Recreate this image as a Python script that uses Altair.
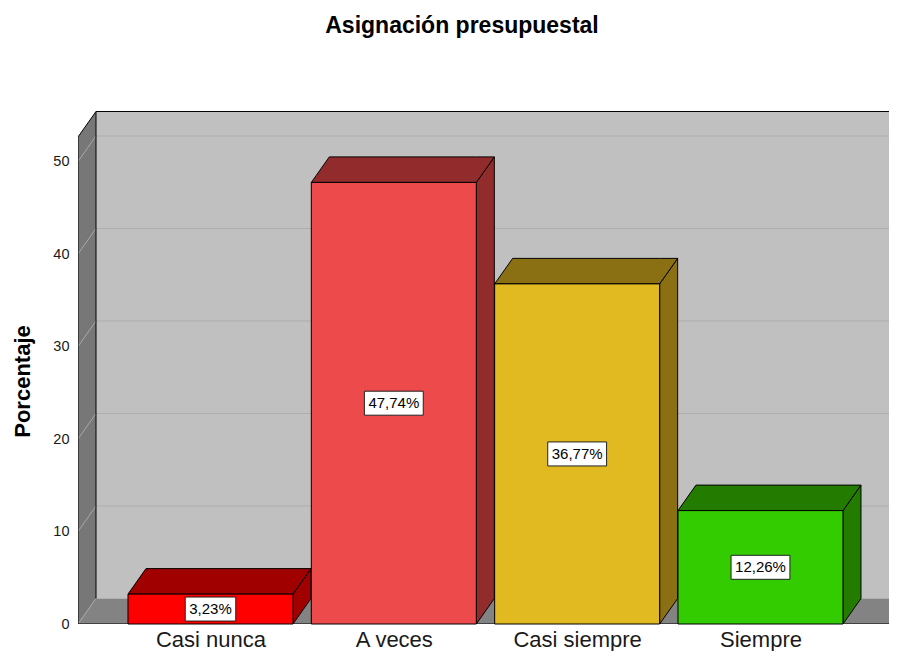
import json
import altair as alt
import pandas as pd

# ---- data ----
categories = ["Casi nunca", "A veces", "Casi siempre", "Siempre"]
values = [3.23, 47.74, 36.77, 12.26]
labels = ["3,23%", "47,74%", "36,77%", "12,26%"]
front_colors = ["#ff0000", "#ed4b4b", "#e0ba20", "#33cc00"]
shade_colors = ["#a00000", "#922c2c", "#8a7012", "#237c00"]
y_ticks = [0, 10, 20, 30, 40, 50]

# ---- geometry / style (x in category units, y in percent units) ----
FONT = "Liberation Sans"
PX_X = 183.33          # px per category step
PX_Y = 9.25            # px per percent
VIEW_W, VIEW_H = 811, 520
HALF = 0.45            # half bar width
DX = 18 / PX_X         # depth offset, x
DY = 25.5 / PX_Y       # depth offset, y
XL = -0.7227           # front left edge of the plot (left wall)
XR = 3.723             # front right edge of the floor
XMAX = XL + VIEW_W / PX_X
YMAX = VIEW_H / PX_Y
Y_TOP = 52.65          # top of the left wall (front)

x_scale = alt.Scale(domain=[XL, XMAX], nice=False, zero=False)
y_scale = alt.Scale(domain=[0, YMAX], nice=False, zero=False)

label_expr = "%s[round(datum.value)]" % json.dumps(categories, ensure_ascii=False)
X_AXIS = alt.Axis(values=[0, 1, 2, 3], labelExpr=label_expr, title=None, grid=False,
                  ticks=False, domain=False, labelFont=FONT, labelFontSize=22,
                  labelColor="#1a1a1a", labelBaseline="alphabetic", labelPadding=22,
                  labelFlush=False, labelOverlap=False)
Y_AXIS = alt.Axis(values=y_ticks, title="Porcentaje", grid=False, ticks=False, domain=False,
                  labelFont=FONT, labelFontSize=14.5, labelColor="#1a1a1a", labelPadding=9,
                  titleFont=FONT, titleFontSize=22, titleFontWeight="bold", titleColor="#000",
                  titleAngle=270, titleX=-56, titleY=277, titleAlign="center",
                  titleBaseline="middle")


def X(f):
    return alt.X(f, type="quantitative", scale=x_scale, axis=X_AXIS)


def Y(f):
    return alt.Y(f, type="quantitative", scale=y_scale, axis=Y_AXIS, stack=None)


# ---- tables built from the arrays ----
front_rows, top_rows, side_rows, box_rows = [], [], [], []
for i, (c, v, lab, fc, sc) in enumerate(zip(categories, values, labels, front_colors, shade_colors)):
    x0, x1 = i - HALF, i + HALF
    front_rows.append(dict(cat=c, x0=x0, x1=x1, v=v, base=0, fc=fc))
    for x, lo, hi in [(x0, v, v), (x0 + DX, v, v + DY), (x1, v, v + DY), (x1 + DX, v + DY, v + DY)]:
        top_rows.append(dict(cat=c, x=x, lo=lo, hi=hi, sc=sc))
    for x, lo, hi in [(x1, 0, v), (x1 + DX, DY, v + DY)]:
        side_rows.append(dict(cat=c, x=x, lo=lo, hi=hi, sc=sc))
    em = sum(0.889 if ch == "%" else (0.278 if ch == "," else 0.556) for ch in lab)
    hw = (em * 15 + 8) / 2 / PX_X
    hh = 12 / PX_Y
    box_rows.append(dict(cat=c, idx=i, lab=lab, mid=v / 2, bx0=i - hw, bx1=i + hw,
                         by0=v / 2 - hh, by1=v / 2 + hh))

front_df = pd.DataFrame(front_rows)
top_df = pd.DataFrame(top_rows)
side_df = pd.DataFrame(side_rows)
box_df = pd.DataFrame(box_rows)

back_df = pd.DataFrame([dict(x0=XL + DX, x1=XR + DX, y0=DY, y1=Y_TOP + DY)])
leftwall_df = pd.DataFrame([dict(x=XL, lo=0, hi=Y_TOP), dict(x=XL + DX, lo=DY, hi=Y_TOP + DY)])
floor_df = pd.DataFrame([dict(x=XL, lo=0, hi=0), dict(x=XL + DX, lo=0, hi=DY),
                         dict(x=XR, lo=0, hi=DY), dict(x=XR + DX, lo=DY, hi=DY)])

seg = []
for t in y_ticks[1:]:
    seg.append(dict(x0=XL + DX, x1=XR + DX, y0=t + DY, y1=t + DY, col="#adadad"))
    seg.append(dict(x0=XL, x1=XL + DX, y0=t, y1=t + DY, col="#a8a8a8"))
seg.append(dict(x0=XL, x1=XL + DX, y0=0, y1=DY, col="#a8a8a8"))
for x0, x1, y0, y1 in [(XL, XL, 0, Y_TOP), (XL, XL + DX, Y_TOP, Y_TOP + DY),
                       (XL + DX, XL + DX, DY, Y_TOP + DY), (XL + DX, XR + DX, Y_TOP + DY, Y_TOP + DY),
                       (XL, XR, 0, 0), (XR, XR + DX, 0, DY)]:
    seg.append(dict(x0=x0, x1=x1, y0=y0, y1=y1, col="#000000"))
seg_df = pd.DataFrame(seg)

# ---- layers ----
back = alt.Chart(back_df).mark_rect(fill="#c0c0c0", clip=True).encode(
    x=X("x0"), x2="x1", y=Y("y0"), y2="y1")
leftwall = alt.Chart(leftwall_df).mark_area(fill="#777777", clip=True).encode(
    x=X("x"), y=Y("lo"), y2="hi")
floor = alt.Chart(floor_df).mark_area(fill="#838383", clip=True).encode(
    x=X("x"), y=Y("lo"), y2="hi")
lines = alt.Chart(seg_df).mark_rule(strokeWidth=1, clip=True).encode(
    x=X("x0"), x2="x1", y=Y("y0"), y2="y1", stroke=alt.Stroke("col:N", scale=None))
sides = alt.Chart(side_df).mark_area(stroke="black", strokeWidth=1, clip=True).encode(
    x=X("x"), y=Y("lo"), y2="hi", fill=alt.Fill("sc:N", scale=None), detail="cat:N")
tops = alt.Chart(top_df).mark_area(stroke="black", strokeWidth=1, clip=True).encode(
    x=X("x"), y=Y("lo"), y2="hi", fill=alt.Fill("sc:N", scale=None), detail="cat:N")
fronts = alt.Chart(front_df).mark_rect(stroke="black", strokeWidth=1).encode(
    x=X("x0"), x2="x1", y=Y("base"), y2="v", fill=alt.Fill("fc:N", scale=None))
boxes = alt.Chart(box_df).mark_rect(fill="white", stroke="#222", strokeWidth=1).encode(
    x=X("bx0"), x2="bx1", y=Y("by0"), y2="by1")
texts = alt.Chart(box_df).mark_text(font=FONT, fontSize=15, color="black",
                                    baseline="middle", align="center").encode(
    x=X("idx"), y=Y("mid"), text="lab:N")

chart = alt.layer(back, leftwall, floor, lines, sides, tops, fronts, boxes, texts).properties(
    width=VIEW_W, height=VIEW_H,
    padding={"left": 70, "top": 96, "right": 0, "bottom": 27},
    autosize=alt.AutoSizeParams(type="none"),
    title=alt.TitleParams("Asignación presupuestal", font=FONT, fontSize=23, fontWeight="bold",
                          color="#000", anchor="middle", frame="group", baseline="alphabetic",
                          offset=48, dx=-21.5),
    background="white",
).configure_view(stroke=None)

chart.save("out.html", embed_options={"renderer": "svg", "actions": False})
